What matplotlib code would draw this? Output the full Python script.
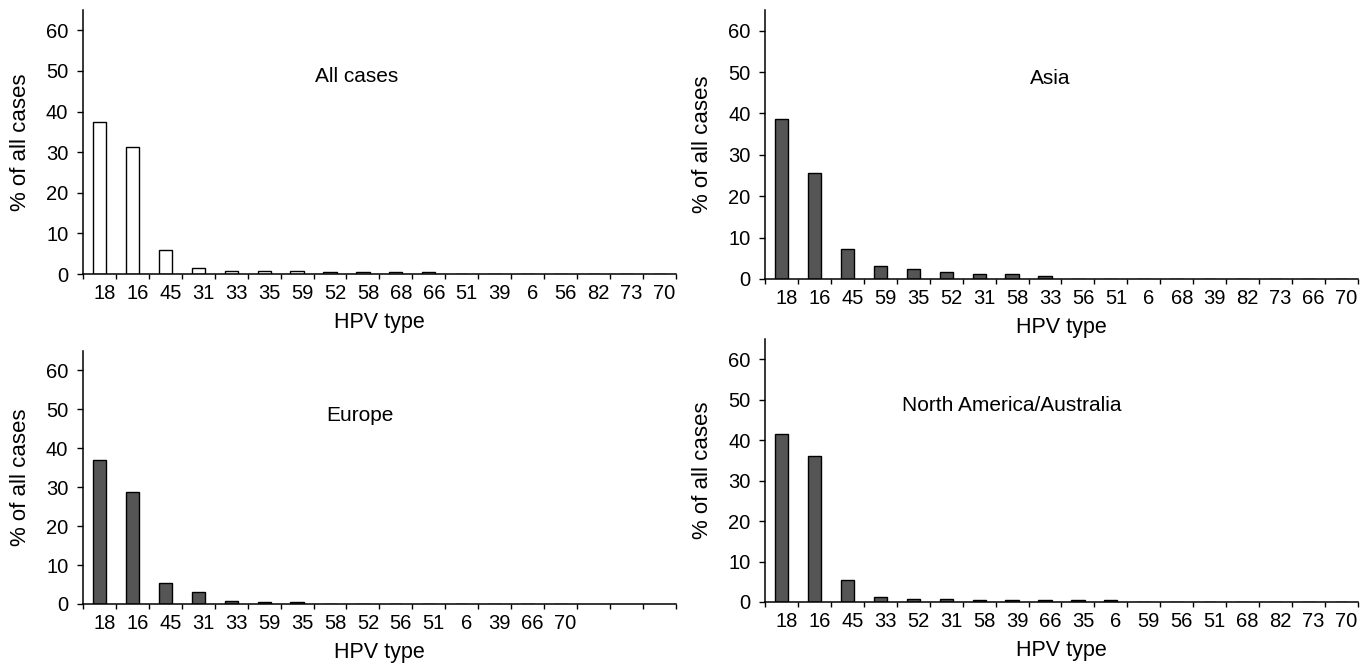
import matplotlib
matplotlib.use('Agg')
import matplotlib.pyplot as plt
import matplotlib.transforms as mtransforms
import numpy as np

# HPV type distribution (% of all cases)
all_types = ['18', '16', '45', '31', '33', '35', '59', '52', '58', '68', '66',
             '51', '39', '6', '56', '82', '73', '70']
all_pct = [37.5, 31.2, 5.9, 1.5, 0.8, 0.8, 0.8, 0.4, 0.4, 0.4, 0.4,
           0, 0, 0, 0, 0, 0, 0]

asia_types = ['18', '16', '45', '59', '35', '52', '31', '58', '33', '56', '51',
              '6', '68', '39', '82', '73', '66', '70']
asia_pct = [38.6, 25.6, 7.3, 3.1, 2.4, 1.6, 1.1, 1.1, 0.8,
            0, 0, 0, 0, 0, 0, 0, 0, 0]

europe_types = ['18', '16', '45', '31', '33', '59', '35', '58', '52', '56',
                '51', '6', '39', '66', '70']
europe_pct = [37.0, 28.8, 5.4, 3.1, 0.8, 0.5, 0.5, 0, 0, 0, 0, 0, 0, 0, 0]

na_types = ['18', '16', '45', '33', '52', '31', '58', '39', '66', '35', '6',
            '59', '56', '51', '68', '82', '73', '70']
na_pct = [41.4, 36.0, 5.5, 1.2, 0.8, 0.8, 0.4, 0.4, 0.4, 0.4, 0.4,
          0, 0, 0, 0, 0, 0, 0]

n_slots = 18
dark = '#555555'

plt.rcParams['font.family'] = ['Liberation Sans', 'DejaVu Sans']

fig = plt.figure(figsize=(13.71, 6.64), dpi=100)

# (left, bottom, width, height), face colour, title, title x
panels = [
    ([0.0605, 0.5873, 0.4325, 0.3977], all_types, all_pct, 'white', 'All cases', 7.8),
    ([0.5580, 0.5800, 0.4325, 0.4050], asia_types, asia_pct, dark, 'Asia', 8.17),
    ([0.0605, 0.0904, 0.4325, 0.3810], europe_types, europe_pct, dark, 'Europe', 7.9),
    ([0.5580, 0.0934, 0.4325, 0.3961], na_types, na_pct, dark, 'North America/Australia', 7.0),
]

label_shift = mtransforms.ScaledTranslation(5 / 100, 0, fig.dpi_scale_trans)

for rect, types, pct, color, title, tx in panels:
    ax = fig.add_axes(rect)
    x = np.arange(len(types))
    ax.bar(x, pct, width=0.4, color=color, edgecolor='black', linewidth=1.0)

    ax.set_xlim(-0.5, n_slots - 0.5)
    ax.set_ylim(0, 65)

    # boundaries between categories get the tick marks, labels sit in the middle
    ax.set_xticks(np.arange(n_slots + 1) - 0.5)
    ax.set_xticklabels([])
    ax.set_xticks(x, minor=True)
    ax.set_xticklabels(types, minor=True)
    ax.tick_params(axis='x', which='major', direction='out', length=3.5, width=1.0)
    ax.tick_params(axis='x', which='minor', length=0, pad=7, labelsize=14.5)
    for lab in ax.get_xticklabels(minor=True):
        lab.set_transform(lab.get_transform() + label_shift)

    ax.set_yticks([0, 10, 20, 30, 40, 50, 60])
    ax.tick_params(axis='y', direction='out', length=4.5, width=1.0, pad=6, labelsize=14.5)

    for s in ['top', 'right']:
        ax.spines[s].set_visible(False)
    for s in ['left', 'bottom']:
        ax.spines[s].set_linewidth(1.1)

    ax.set_xlabel('HPV type', fontsize=15.5, labelpad=7)
    ax.set_ylabel('% of all cases', fontsize=16, labelpad=11)
    ax.text(tx, 48.5, title, fontsize=15, ha='center', va='center')

fig.savefig('out.png', dpi=100, facecolor='white')
